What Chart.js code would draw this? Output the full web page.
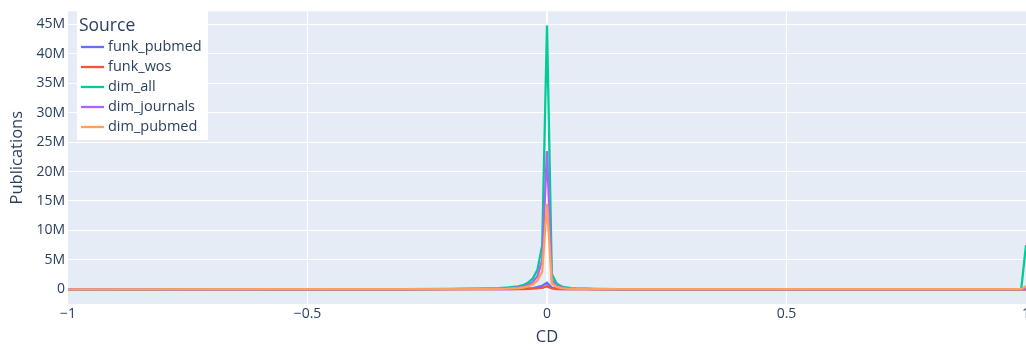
<!DOCTYPE html>
<html>
<head>
<meta charset="utf-8">
<script src="https://cdn.jsdelivr.net/npm/chart.js@4.4.1/dist/chart.umd.min.js"></script>
<style>
  body { margin: 0; background: #fff; }
  canvas { display: block; }
</style>
</head>
<body>
<canvas id="cd-chart" width="1026" height="350"></canvas>
<script>
// --- Datos (valores en millones de publicaciones) ---
const CD_BINS = [-1, -0.5, -0.3, -0.2, -0.15, -0.1, -0.08, -0.06, -0.05, -0.04, -0.03, -0.02, -0.01, 0,
                 0.01, 0.02, 0.03, 0.04, 0.05, 0.06, 0.08, 0.1, 0.15, 0.2, 0.3, 0.5, 0.99, 1];

const funkPubmed  = [0, 0, 0, 0.01, 0.02, 0.03, 0.05, 0.07, 0.1, 0.15, 0.2, 0.35, 0.6, 1.1,
                     0.3, 0.1, 0.05, 0.03, 0.02, 0.01, 0.01, 0.01, 0, 0, 0, 0, 0, 0];
const funkWos     = [0, 0, 0, 0.01, 0.01, 0.02, 0.03, 0.04, 0.05, 0.07, 0.1, 0.15, 0.25, 0.5,
                     0.15, 0.05, 0.03, 0.02, 0.01, 0.01, 0.01, 0, 0, 0, 0, 0, 0, 0];
const dimAll      = [0, 0.01, 0.03, 0.06, 0.1, 0.2, 0.3, 0.5, 0.7, 1.1, 1.8, 3.3, 7.5, 44.8,
                     2.6, 1.0, 0.5, 0.3, 0.2, 0.15, 0.1, 0.07, 0.04, 0.03, 0.02, 0.01, 0.02, 7.5];
const dimJournals = [0, 0.01, 0.02, 0.04, 0.07, 0.12, 0.2, 0.3, 0.45, 0.7, 1.2, 2.2, 5.0, 23.5,
                     1.6, 0.6, 0.3, 0.2, 0.12, 0.08, 0.06, 0.04, 0.02, 0.02, 0.01, 0.01, 0.01, 0.3];
const dimPubmed   = [0, 0.01, 0.01, 0.03, 0.05, 0.08, 0.12, 0.2, 0.3, 0.5, 0.8, 1.5, 3.0, 14.5,
                     1.0, 0.4, 0.2, 0.12, 0.08, 0.05, 0.04, 0.03, 0.02, 0.01, 0.01, 0.01, 0.01, 0.5];

const SERIES_NAMES = ['funk_pubmed', 'funk_wos', 'dim_all', 'dim_journals', 'dim_pubmed'];
const SERIES_VALUES = [funkPubmed, funkWos, dimAll, dimJournals, dimPubmed];
const SERIES_COLORS = ['#636efa', '#EF553B', '#00cc96', '#ab63fa', '#FFA15A'];

const X_TICKS = [-1, -0.5, 0, 0.5, 1];
const X_TICK_LABELS = ['\u22121', '\u22120.5', '0', '0.5', '1'];
const Y_TICKS = [0, 5, 10, 15, 20, 25, 30, 35, 40, 45];

const FONT = '"Open Sans", "DejaVu Sans", sans-serif';
const TEXT_COLOR = '#2a3f5f';

// --- Plugins ---
const plotBackground = {
    id: 'plotBackground',
    beforeDraw(chart) {
        const { ctx, chartArea: a } = chart;
        ctx.save();
        ctx.fillStyle = '#E5ECF6';
        ctx.fillRect(a.left, a.top, a.right - a.left, a.bottom - a.top);
        ctx.restore();
    }
};

const insideLegend = {
    id: 'insideLegend',
    afterDraw(chart) {
        const { ctx } = chart;
        ctx.save();
        ctx.fillStyle = '#ffffff';
        ctx.fillRect(77, 9, 131, 131);
        ctx.fillStyle = TEXT_COLOR;
        ctx.textBaseline = 'middle';
        ctx.font = `17.5px ${FONT}`;
        ctx.fillText('Source', 79, 26);
        ctx.font = `14.5px ${FONT}`;
        SERIES_NAMES.forEach((name, i) => {
            const y = 47 + i * 20;
            ctx.strokeStyle = SERIES_COLORS[i];
            ctx.lineWidth = 2.3;
            ctx.beginPath();
            ctx.moveTo(81, y);
            ctx.lineTo(104, y);
            ctx.stroke();
            ctx.fillStyle = TEXT_COLOR;
            ctx.fillText(name, 108, y);
        });
        ctx.restore();
    }
};

// --- Grafico ---
const datasets = SERIES_NAMES.map((name, i) => ({
    label: name,
    data: CD_BINS.map((x, j) => ({ x: x, y: SERIES_VALUES[i][j] })),
    borderColor: SERIES_COLORS[i],
    backgroundColor: SERIES_COLORS[i],
    borderWidth: 2.3,
    pointRadius: 0,
    tension: 0,
    fill: false,
    order: SERIES_NAMES.length - i
}));

new Chart(document.getElementById('cd-chart'), {
    type: 'line',
    data: { datasets },
    plugins: [plotBackground, insideLegend],
    options: {
        responsive: false,
        animation: false,
        layout: { padding: { top: 6, right: 0, left: 0, bottom: 0 } },
        plugins: { legend: { display: false }, tooltip: { enabled: false } },
        scales: {
            x: {
                type: 'linear',
                min: -1, max: 1,
                afterBuildTicks: s => { s.ticks = X_TICKS.map(v => ({ value: v })); },
                // el eje llega hasta el borde: la etiqueta "1" queda cortada como en el original
                afterFit: s => { s.height = 46; s.paddingRight = 0; s.paddingLeft = 0; },
                grid: {
                    drawTicks: false,
                    color: c => (c.tick && Math.abs(c.tick.value) === 1) ? 'rgba(0,0,0,0)' : '#ffffff',
                    lineWidth: c => (c.tick && c.tick.value === 0) ? 2 : 1
                },
                border: { display: false },
                ticks: {
                    color: TEXT_COLOR, padding: 2, maxRotation: 0,
                    font: { family: FONT, size: 14 },
                    callback: v => X_TICK_LABELS[X_TICKS.indexOf(v)]
                },
                title: {
                    display: true, text: 'CD', color: TEXT_COLOR,
                    font: { family: FONT, size: 16.5 }, padding: { top: 0, bottom: 3 }
                }
            },
            y: {
                min: -2.5, max: 47.2,
                afterBuildTicks: s => { s.ticks = Y_TICKS.map(v => ({ value: v })); },
                afterFit: s => { s.width = 68; },
                grid: {
                    drawTicks: false,
                    color: '#ffffff',
                    lineWidth: c => (c.tick && c.tick.value === 0) ? 2 : 1
                },
                border: { display: false },
                ticks: {
                    color: TEXT_COLOR, padding: 3,
                    font: { family: FONT, size: 14 },
                    callback: v => v === 0 ? '0' : v + 'M'
                },
                title: {
                    display: true, text: 'Publications', color: TEXT_COLOR,
                    font: { family: FONT, size: 16.5 }, padding: { top: 7, bottom: 0 }
                }
            }
        }
    }
});
</script>
</body>
</html>
